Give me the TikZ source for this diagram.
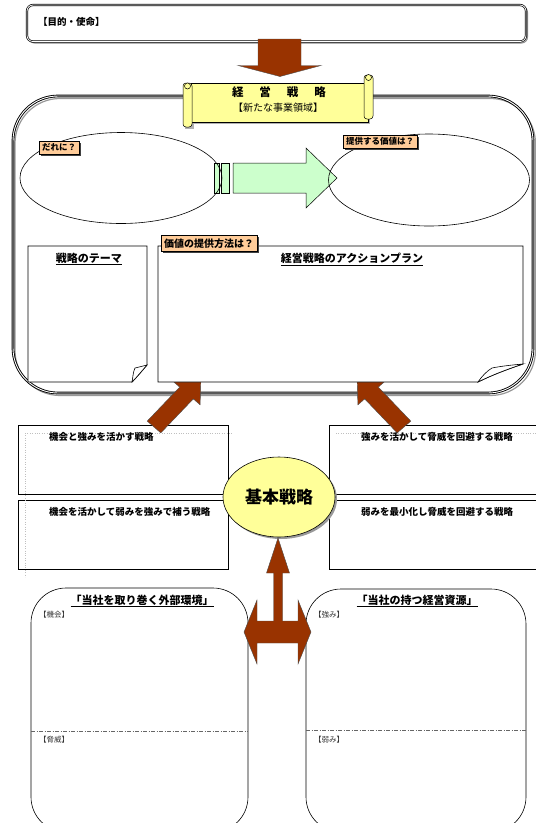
\documentclass[tikz,border=0pt]{standalone}
\usepackage{fontspec}
\setmainfont{Noto Sans CJK JP}
\usetikzlibrary{shapes.geometric,shadows}
\definecolor{brn}{HTML}{993300}
\definecolor{grn}{HTML}{CCFFCC}
\definecolor{ylw}{HTML}{FFFF99}
\definecolor{org}{HTML}{FFCC99}
\newcommand{\fs}[1]{\fontsize{#1}{#1}\selectfont}
\begin{document}
\begin{tikzpicture}[x=1pt,y=-1pt,
  lbl/.style={fill=org, draw=black, line width=0.4pt, font=\bfseries\fs{8.5},
    inner xsep=3pt, inner ysep=1pt, minimum height=13pt,
    drop shadow={shadow xshift=1.5pt, shadow yshift=-1.5pt, fill=black!75, opacity=1}},
  stratbox/.style={draw=black, line width=0.6pt, fill=white},
  strattxt/.style={anchor=west, font=\bfseries\fs{9.5}, inner sep=0pt},
  ttl/.style={font=\bfseries\fs{11}, inner sep=0pt},
  sub/.style={anchor=west, font=\fs{7.5}, text=black!80, inner sep=0pt},
  brarrow/.style={fill=brn, draw=black!70, line width=0.4pt},
  faint/.style={draw=black!25, dotted, line width=0.4pt},
  dd/.style={draw=black!60, line width=0.5pt, dash pattern=on 4pt off 1.5pt on 1pt off 1.5pt}]
\useasboundingbox (0,0) rectangle (536,823);

% ---------- top mission box
\draw[black!45, line width=1pt, rounded corners=6pt] (28.5,6.5) rectangle (527.5,43);
\draw[fill=white, line width=0.7pt, double=white, double distance=0.8pt, rounded corners=6pt] (27,5) rectangle (526,41.5);
\node[anchor=west, font=\bfseries\fs{9.5}, inner sep=0pt] (mission) at (38,22) {【目的・使命】};

% ---------- down arrow
\draw[brarrow] (258,39) -- (301,39) -- (301,65.5) -- (321,65.5) -- (280,76.5) -- (238,65.5) -- (258,65.5) -- cycle;

% ---------- big rounded frame
\draw[black!40, line width=1.2pt, rounded corners=45pt] (15,98.5) rectangle (535.5,395.5);
\draw[line width=0.9pt, double=white, double distance=0.9pt, rounded corners=45pt] (13,96) rectangle (533,393);

% ---------- banner (scroll)
\fill[black!30] (193,85) rectangle (370,124);
\fill[black!30] (185,88) rectangle (194,129);
\draw[fill=ylw, line width=0.5pt] (191,83) rectangle (368,122);
\draw[fill=ylw, line width=0.5pt, rounded corners=3pt] (364,75) rectangle (373,119);
\draw[fill=ylw, line width=0.5pt] (368.5,77.5) circle (3);
\draw[fill=ylw, line width=0.5pt, rounded corners=3pt] (183,83) rectangle (192,127);
\draw[fill=ylw, line width=0.5pt] (187.5,86) circle (3);
\node[font=\bfseries\fs{11.5}, inner sep=0pt] (bantitle) at (279,92) {経\hspace{16pt}営\hspace{16pt}戦\hspace{16pt}略};
\node[font=\fs{10}, inner sep=0pt] (bansub) at (278,108) {【新たな事業領域】};

% ---------- green arrow
\draw[fill=grn, line width=0.5pt] (214,163) rectangle (219,193);
\draw[fill=grn, line width=0.5pt] (221.5,163) rectangle (229,193);
\draw[fill=grn, line width=0.5pt] (233,163) -- (306,163) -- (306,148) -- (337,178) -- (306,208) -- (306,193) -- (233,193) -- cycle;

% ---------- ellipses
\node[ellipse, draw, line width=0.6pt, minimum width=202pt, minimum height=91pt, inner sep=0pt] (who) at (121,178) {};
\node[ellipse, draw, line width=0.6pt, minimum width=201pt, minimum height=92pt, inner sep=0pt] (value) at (429,180) {};
\node[lbl] (whoq) at (59,147.5) {だれに？};
\node[lbl] (valueq) at (380,141.5) {提供する価値は？};

% ---------- strategy boxes
\draw[stratbox] (18,425) rectangle (228,494);
\draw[stratbox] (18,500) rectangle (228,569);
\draw[stratbox] (329,425) rectangle (545,494);
\draw[stratbox] (329,500) rectangle (545,569);
\draw[faint] (25,433) -- (233,433);
\draw[faint] (25,433) -- (25,577);
\draw[faint] (336,433) -- (536,433);
\node[strattxt] (s1) at (49,437) {機会と強みを活かす戦略};
\node[strattxt] (s2) at (49,512) {機会を活かして弱みを強みで補う戦略};
\node[strattxt] (s3) at (361,437) {強みを活かして脅威を回避する戦略};
\node[strattxt] (s4) at (361,512) {弱みを最小化し脅威を回避する戦略};

% ---------- diagonal brown arrows
\draw[brarrow] (201,376) -- (200.1,404.8) -- (193.3,398.9) -- (160.8,432.9) -- (147.2,421.1) -- (179.7,387.1) -- (172.9,381.2) -- cycle;
\draw[brarrow] (357,376) -- (357.9,404.8) -- (364.7,398.9) -- (397.2,432.9) -- (410.8,421.1) -- (378.3,387.1) -- (385.1,381.2) -- cycle;

% ---------- theme box
\draw[fill=white, line width=0.8pt] (28,246) -- (147,246) -- (147,365) .. controls (141,372) and (136,378) .. (132,382) -- (28,382) -- cycle;
\draw[fill=white, line width=0.6pt] (147,365) .. controls (141,372) and (136,378) .. (132,382) .. controls (133,377) and (133,372) .. (135,368) .. controls (139,367) and (143,366) .. (147,365) -- cycle;
\node[ttl] (theme) at (89,259) {\underline{戦略のテーマ}};

% ---------- action plan box
\draw[fill=white, line width=0.8pt] (158,246) -- (523,246) -- (523,364) .. controls (505,370) and (490,376) .. (478,382) -- (158,382) -- cycle;
\draw[fill=white, line width=0.6pt] (523,364) .. controls (505,370) and (490,376) .. (478,382) .. controls (482,376) and (487,371) .. (492,368) .. controls (502,366) and (512,365) .. (523,364) -- cycle;
\node[ttl] (action) at (352,259) {\underline{経営戦略のアクションプラン}};
\node[lbl, font=\bfseries\fs{10}, minimum height=16pt] (howq) at (209,243.5) {価値の提供方法は？};

% ---------- basic strategy ellipse
\node[ellipse, draw, line width=0.6pt, fill=ylw, minimum width=112pt, minimum height=80pt, inner sep=0pt,
  drop shadow={shadow xshift=2pt, shadow yshift=-2pt, fill=black!40, opacity=1}, font=\bfseries\fs{17}] (kihon) at (279,497) {基本戦略};

% ---------- bottom boxes
\draw[fill=white, line width=0.6pt, rounded corners=35pt] (31,588) rectangle (248,832);
\draw[fill=white, line width=0.6pt, rounded corners=35pt] (306,589) rectangle (526,832);
\draw[dd] (31,731) -- (248,731);
\draw[dd] (306,730) -- (526,730);
\node[ttl, font=\bfseries\fs{11}] (ext) at (142,601) {\underline{「当社を取り巻く外部環境」}};
\node[ttl, font=\bfseries\fs{11}] (res) at (417,601) {\underline{「当社の持つ経営資源」}};
\node[sub] (opp) at (39,615) {【機会】};
\node[sub] (thr) at (39,740) {【脅威】};
\node[sub] (str) at (314,615) {【強み】};
\node[sub] (wea) at (314,740) {【弱み】};

% ---------- cross arrow
\draw[brarrow] (278,538) -- (289.5,573) -- (282.5,573) -- (282.5,621) -- (298,621) -- (298,600) -- (311,632) -- (298,664) -- (298,643) -- (257,643) -- (257,664) -- (244,632) -- (257,600) -- (257,621) -- (273.5,621) -- (273.5,573) -- (266.5,573) -- cycle;
\end{tikzpicture}
\end{document}
